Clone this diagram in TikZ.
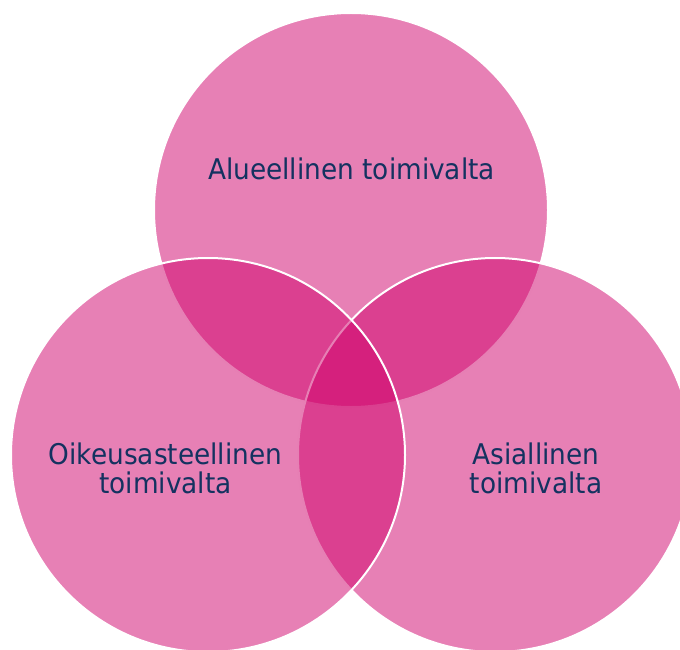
\documentclass[tikz,border=0pt]{standalone}
\usepackage{fontspec}
\newfontfamily\labfont[FakeStretch=0.925]{DejaVu Sans}
\definecolor{venn}{RGB}{207,1,107}
\definecolor{labnavy}{RGB}{20,50,96}
\begin{document}
\begin{tikzpicture}[x=1bp,y=-1bp]
\tikzset{
  venncircle/.style={circle, minimum size=394bp, inner sep=0pt, fill=venn, fill opacity=0.5, draw=white, draw opacity=1, line width=2bp},
  lab/.style={font=\labfont\fontsize{28.5bp}{29.5bp}\selectfont, text=labnavy, align=center, anchor=base, inner sep=0pt}
}
\useasboundingbox (0,0) rectangle (680,650);
\node[venncircle] (ctop) at (351,210) {};
\node[venncircle] (cright) at (495,455) {};
\node[venncircle] (cleft) at (208,455) {};
\node[lab] (ltop) at (351.5,179) {Alueellinen toimivalta};
\node[lab] (lleft) at (165.5,493.5) {Oikeusasteellinen\\toimivalta};
\node[lab] (lright) at (536,493.5) {Asiallinen\\toimivalta};
\end{tikzpicture}
\end{document}
